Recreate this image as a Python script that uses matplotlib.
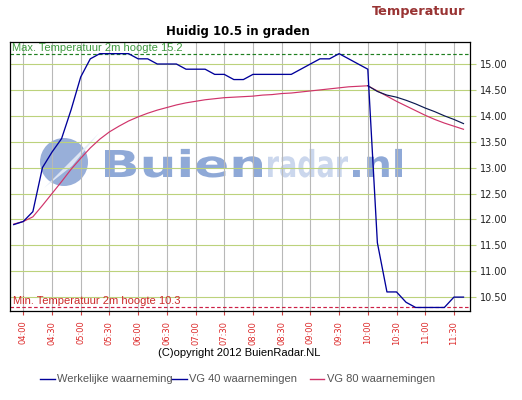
import matplotlib
matplotlib.use('Agg')
import matplotlib.pyplot as plt
from matplotlib.textpath import TextPath
from matplotlib.patches import PathPatch, Circle, Polygon
from matplotlib.font_manager import FontProperties
from matplotlib.transforms import Affine2D, IdentityTransform, blended_transform_factory
from matplotlib.lines import Line2D

# ---------------- data ----------------
times = ['03:50', '04:00', '04:10', '04:20', '04:30', '04:40', '04:50', '05:00',
         '05:10', '05:20', '05:30', '05:40', '05:50', '06:00', '06:10', '06:20',
         '06:30', '06:40', '06:50', '07:00', '07:10', '07:20', '07:30', '07:40',
         '07:50', '08:00', '08:10', '08:20', '08:30', '08:40', '08:50', '09:00',
         '09:10', '09:20', '09:30', '09:40', '09:50', '10:00', '10:10', '10:20',
         '10:30', '10:40', '10:50', '11:00', '11:10', '11:20', '11:30', '11:40']

werkelijk = [11.90, 11.96, 12.15, 13.00, 13.30, 13.56, 14.12, 14.75,
             15.10, 15.20, 15.20, 15.20, 15.20, 15.10, 15.10, 15.00,
             15.00, 15.00, 14.90, 14.90, 14.90, 14.80, 14.80, 14.70,
             14.70, 14.80, 14.80, 14.80, 14.80, 14.80, 14.90, 15.00,
             15.10, 15.10, 15.20, 15.10, 15.00, 14.90, 11.55, 10.60,
             10.60, 10.40, 10.30, 10.30, 10.30, 10.30, 10.50, 10.50]

vg80 = [11.91, 11.96, 12.05, 12.27, 12.50, 12.73, 12.97, 13.18,
        13.38, 13.55, 13.69, 13.80, 13.90, 13.98, 14.05, 14.11,
        14.16, 14.21, 14.25, 14.28, 14.31, 14.33, 14.35, 14.36,
        14.37, 14.38, 14.40, 14.41, 14.43, 14.44, 14.46, 14.48,
        14.50, 14.52, 14.54, 14.56, 14.57, 14.58, 14.48, 14.38,
        14.28, 14.19, 14.10, 14.01, 13.93, 13.86, 13.80, 13.74]

vg40_times = ['10:00', '10:10', '10:20', '10:30', '10:40', '10:50',
              '11:00', '11:10', '11:20', '11:30', '11:40']
vg40 = [14.58, 14.47, 14.40, 14.36, 14.30, 14.23, 14.15, 14.08, 14.00, 13.93, 13.85]

xtick_labels = ['04:00', '04:30', '05:00', '05:30', '06:00', '06:30', '07:00', '07:30',
                '08:00', '08:30', '09:00', '09:30', '10:00', '10:30', '11:00', '11:30']
yticks = [10.5, 11.0, 11.5, 12.0, 12.5, 13.0, 13.5, 14.0, 14.5, 15.0]

max_temp = 15.2
min_temp = 10.3
current = 10.5

legend_labels = ['Werkelijke waarneming', 'VG 40 waarnemingen', 'VG 80 waarnemingen']


def to_min(s):
    h, m = s.split(':')
    return int(h) * 60 + int(m)


W, H = 522, 400
C_ACT = '#00009a'
C_VG40 = '#0a1850'
C_VG80 = '#d0346a'

fig = plt.figure(figsize=(W / 100, H / 100), dpi=100)
fig.patch.set_facecolor('white')
ax = fig.add_axes([10 / W, 1 - 311 / H, 460 / W, 269 / H])

x_act = [to_min(t) for t in times]
x_vg40 = [to_min(t) for t in vg40_times]

ax.plot(x_act, vg80, color=C_VG80, lw=0.85, zorder=3)
ax.plot(x_vg40, vg40, color=C_VG40, lw=0.85, zorder=3)
ax.plot(x_act, werkelijk, color=C_ACT, lw=0.95, zorder=4)

ax.set_xlim(226.1, 706.8)
ax.set_ylim(10.232, 15.425)

# grid
ax.set_axisbelow(True)
ax.set_yticks(yticks)
ax.set_yticklabels([f'{v:.2f}' for v in yticks])
ax.set_xticks([to_min(s) for s in xtick_labels])
ax.set_xticklabels(xtick_labels, rotation=90)
ax.grid(axis='y', color='#bcd27c', lw=0.8)
ax.grid(axis='x', color='#b8b8b8', lw=0.8)
ax.yaxis.tick_right()
ax.tick_params(axis='y', length=4.5, width=0.8, color='#bcd27c', labelcolor='#222222',
               labelsize=7, pad=3)
ax.tick_params(axis='x', length=3, width=0.8, color='#cc4444', labelcolor='#dd2a2a',
               labelsize=6, pad=4)
for sp in ax.spines.values():
    sp.set_color('black')
    sp.set_linewidth(0.9)

# max / min lines
ax.axhline(max_temp, color='#1f7f1f', ls=(0, (3, 2)), lw=0.85, zorder=2.5)
ax.axhline(min_temp, color='#cc1f44', ls=(0, (3, 2)), lw=0.85, zorder=2.5)
btr = blended_transform_factory(ax.transAxes, ax.transData)
ax.text(0.005, max_temp + 0.05, f'Max. Temperatuur 2m hoogte {max_temp}', transform=btr,
        ha='left', va='baseline', color='#3f9a3f', fontsize=8, family='Liberation Sans',
        zorder=5)
ax.text(0.007, min_temp + 0.06, f'Min. Temperatuur 2m hoogte {min_temp}', transform=btr,
        ha='left', va='baseline', color='#cc2a2a', fontsize=8, family='Liberation Sans',
        zorder=5)

# watermark
fp = FontProperties(family='DejaVu Sans', weight='bold')


def add_word(s, x0, x1, color, alpha):
    tp = TextPath((0, 0), s, size=1, prop=fp)
    ext = tp.get_extents()
    sy = 37.0
    sx = (x1 - x0) / ext.width
    tr = Affine2D().translate(-ext.x0, 0).scale(sx, sy).translate(x0, H - 177)
    patch = PathPatch(tp, transform=tr, facecolor=color, edgecolor='none', alpha=alpha,
                      zorder=0.3)
    ax.add_patch(patch)


add_word('Buien', 105, 262, '#7c9ad0', 0.85)
add_word('radar', 268, 348, '#c2d0ea', 0.85)
add_word('.nl', 353, 402, '#7c9ad0', 0.85)
ax.add_patch(Circle((64, H - 162), 24, transform=IdentityTransform(), facecolor='#7f9bd0',
                    edgecolor='none', alpha=0.8, zorder=0.3))
ax.add_patch(Polygon([(44, H - 188), (99, H - 133), (72, H - 166)], closed=True,
                     transform=IdentityTransform(), facecolor='#e4ebf7', edgecolor='none',
                     alpha=0.9, zorder=0.31))

# figure texts
fig.text(465 / W, 1 - 11.7 / H, 'Temperatuur', ha='right', va='center', color='#993333',
         weight='bold', fontsize=9.3)
fig.text(238 / W, 1 - 32 / H, f'Huidig {current} in graden', ha='center', va='center',
         color='black', weight='bold', fontsize=8.5)
fig.text(239.5 / W, 1 - 352.5 / H, '(C)opyright 2012 BuienRadar.NL', ha='center',
         va='center', color='black', fontsize=8, family='Liberation Sans')

# manual legend
ly = 1 - 379 / H
leg = [(40, 55, 57, C_ACT, legend_labels[0]),
       (171, 187, 189, C_ACT, legend_labels[1]),
       (310, 324, 327, C_VG80, legend_labels[2])]
for x0, x1, xt, c, lab in leg:
    fig.add_artist(Line2D([x0 / W, x1 / W], [ly, ly], color=c, lw=1.0))
    fig.text(xt / W, ly, lab, ha='left', va='center', color='#555555', fontsize=8,
             family='Liberation Sans')

fig.savefig('out.png', dpi=100, facecolor='white')
